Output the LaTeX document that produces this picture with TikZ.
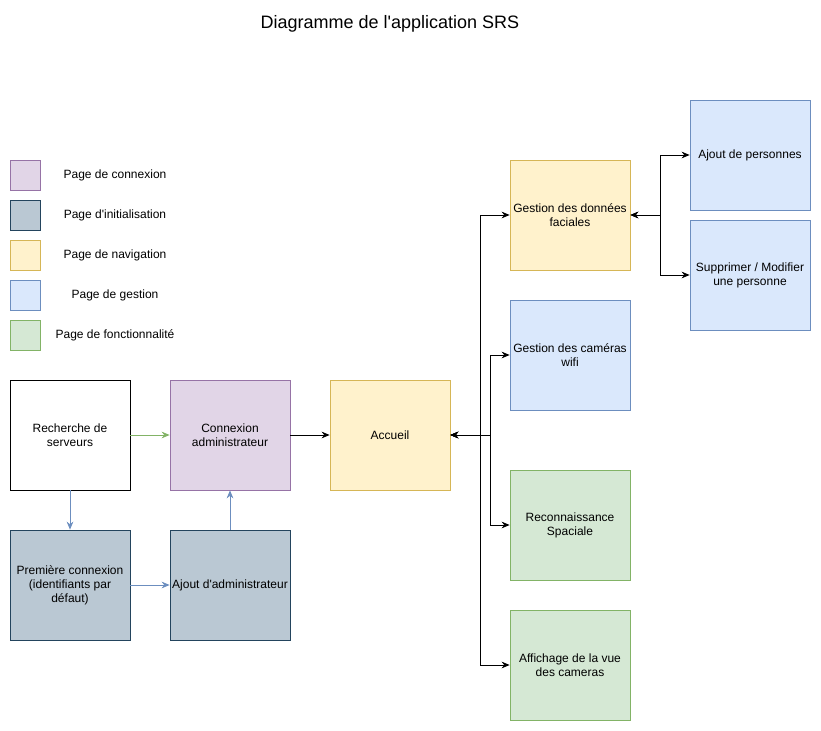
\documentclass[tikz,border=0pt]{standalone}
\usepackage{fontspec}
\setmainfont{Liberation Sans}
\usetikzlibrary{arrows.meta}
\definecolor{purF}{HTML}{E1D5E7}\definecolor{purS}{HTML}{9673A6}
\definecolor{greyF}{HTML}{BAC8D3}\definecolor{greyS}{HTML}{23445D}
\definecolor{yelF}{HTML}{FFF2CC}\definecolor{yelS}{HTML}{D6B656}
\definecolor{bluF}{HTML}{DAE8FC}\definecolor{bluS}{HTML}{6C8EBF}
\definecolor{grnF}{HTML}{D5E8D4}\definecolor{grnS}{HTML}{82B366}
\tikzset{
  box/.style={draw, minimum width=90pt, minimum height=82.5pt, inner sep=1pt, align=center, font=\fontsize{9}{10.5}\selectfont, line width=0.6pt},
  legbox/.style={draw, minimum width=22.5pt, minimum height=22.5pt, inner sep=0pt, line width=0.6pt},
  legtxt/.style={font=\fontsize{9}{10.5}\selectfont, anchor=center},
  pur/.style={fill=purF, draw=purS},
  gry/.style={fill=greyF, draw=greyS},
  yel/.style={fill=yelF, draw=yelS},
  blu/.style={fill=bluF, draw=bluS},
  grn/.style={fill=grnF, draw=grnS},
  conn/.style={line width=0.6pt, -{Stealth[length=6pt,width=5pt]}},
  biconn/.style={line width=0.6pt, {Stealth[length=6pt,width=5pt]}-{Stealth[length=6pt,width=5pt]}},
}
\begin{document}
\begin{tikzpicture}[x=0.75pt, y=-0.75pt]
\useasboundingbox (0,0) rectangle (821,731);
% title
\node[font=\fontsize{13.5}{16}\selectfont] (title) at (390,24) {Diagramme de l\textquotesingle application SRS};
% legend
\node[legbox, pur] (l1) at (25,175) {};
\node[legbox, gry] (l2) at (25,215) {};
\node[legbox, yel] (l3) at (25,255) {};
\node[legbox, blu] (l4) at (25,295) {};
\node[legbox, grn] (l5) at (25,335) {};
\node[legtxt] (t1) at (115,175) {Page de connexion};
\node[legtxt] (t2) at (115,215) {Page d\textquotesingle initialisation};
\node[legtxt] (t3) at (115,255) {Page de navigation};
\node[legtxt] (t4) at (115,295) {Page de gestion};
\node[legtxt] (t5) at (115,335) {Page de fonctionnalité};
% main boxes
\node[box, draw=black, fill=white] (rech) at (70,435) {Recherche de\\serveurs};
\node[box, pur] (conn) at (230,435) {Connexion\\administrateur};
\node[box, yel] (acc) at (390,435) {Accueil};
\node[box, gry] (prem) at (70,585) {Première connexion\\(identifiants par\\défaut)};
\node[box, gry] (ajad) at (230,585) {Ajout d\textquotesingle administrateur};
\node[box, yel] (gdf) at (570,215) {Gestion des données\\faciales};
\node[box, blu] (gcw) at (570,355) {Gestion des caméras\\wifi};
\node[box, grn] (rsp) at (570,525) {Reconnaissance\\Spaciale};
\node[box, grn] (aff) at (570,665) {Affichage de la vue\\des cameras};
\node[box, blu] (ajp) at (750,155) {Ajout de personnes};
\node[box, blu] (sup) at (750,275) {Supprimer / Modifier\\une personne};
% connectors
\draw[conn, draw=grnS] (rech) -- (conn);
\draw[conn, draw=bluS] (rech) -- (prem);
\draw[conn, draw=bluS] (prem) -- (ajad);
\draw[conn, draw=bluS] (ajad) -- (conn);
\draw[conn] (conn) -- (acc);
\coordinate (ja) at (480,435);
\coordinate (jb) at (490,435);
\draw[biconn] (acc.east) -- (ja) |- (gdf.west);
\draw[biconn] (acc.east) -- (jb) |- (gcw.west);
\draw[biconn] (acc.east) -- (jb) |- (rsp.west);
\draw[biconn] (acc.east) -- (ja) |- (aff.west);
\coordinate (jc) at (660,215);
\draw[biconn] (gdf.east) -- (jc) |- (ajp.west);
\draw[biconn] (gdf.east) -- (jc) |- (sup.west);
\end{tikzpicture}
\end{document}
